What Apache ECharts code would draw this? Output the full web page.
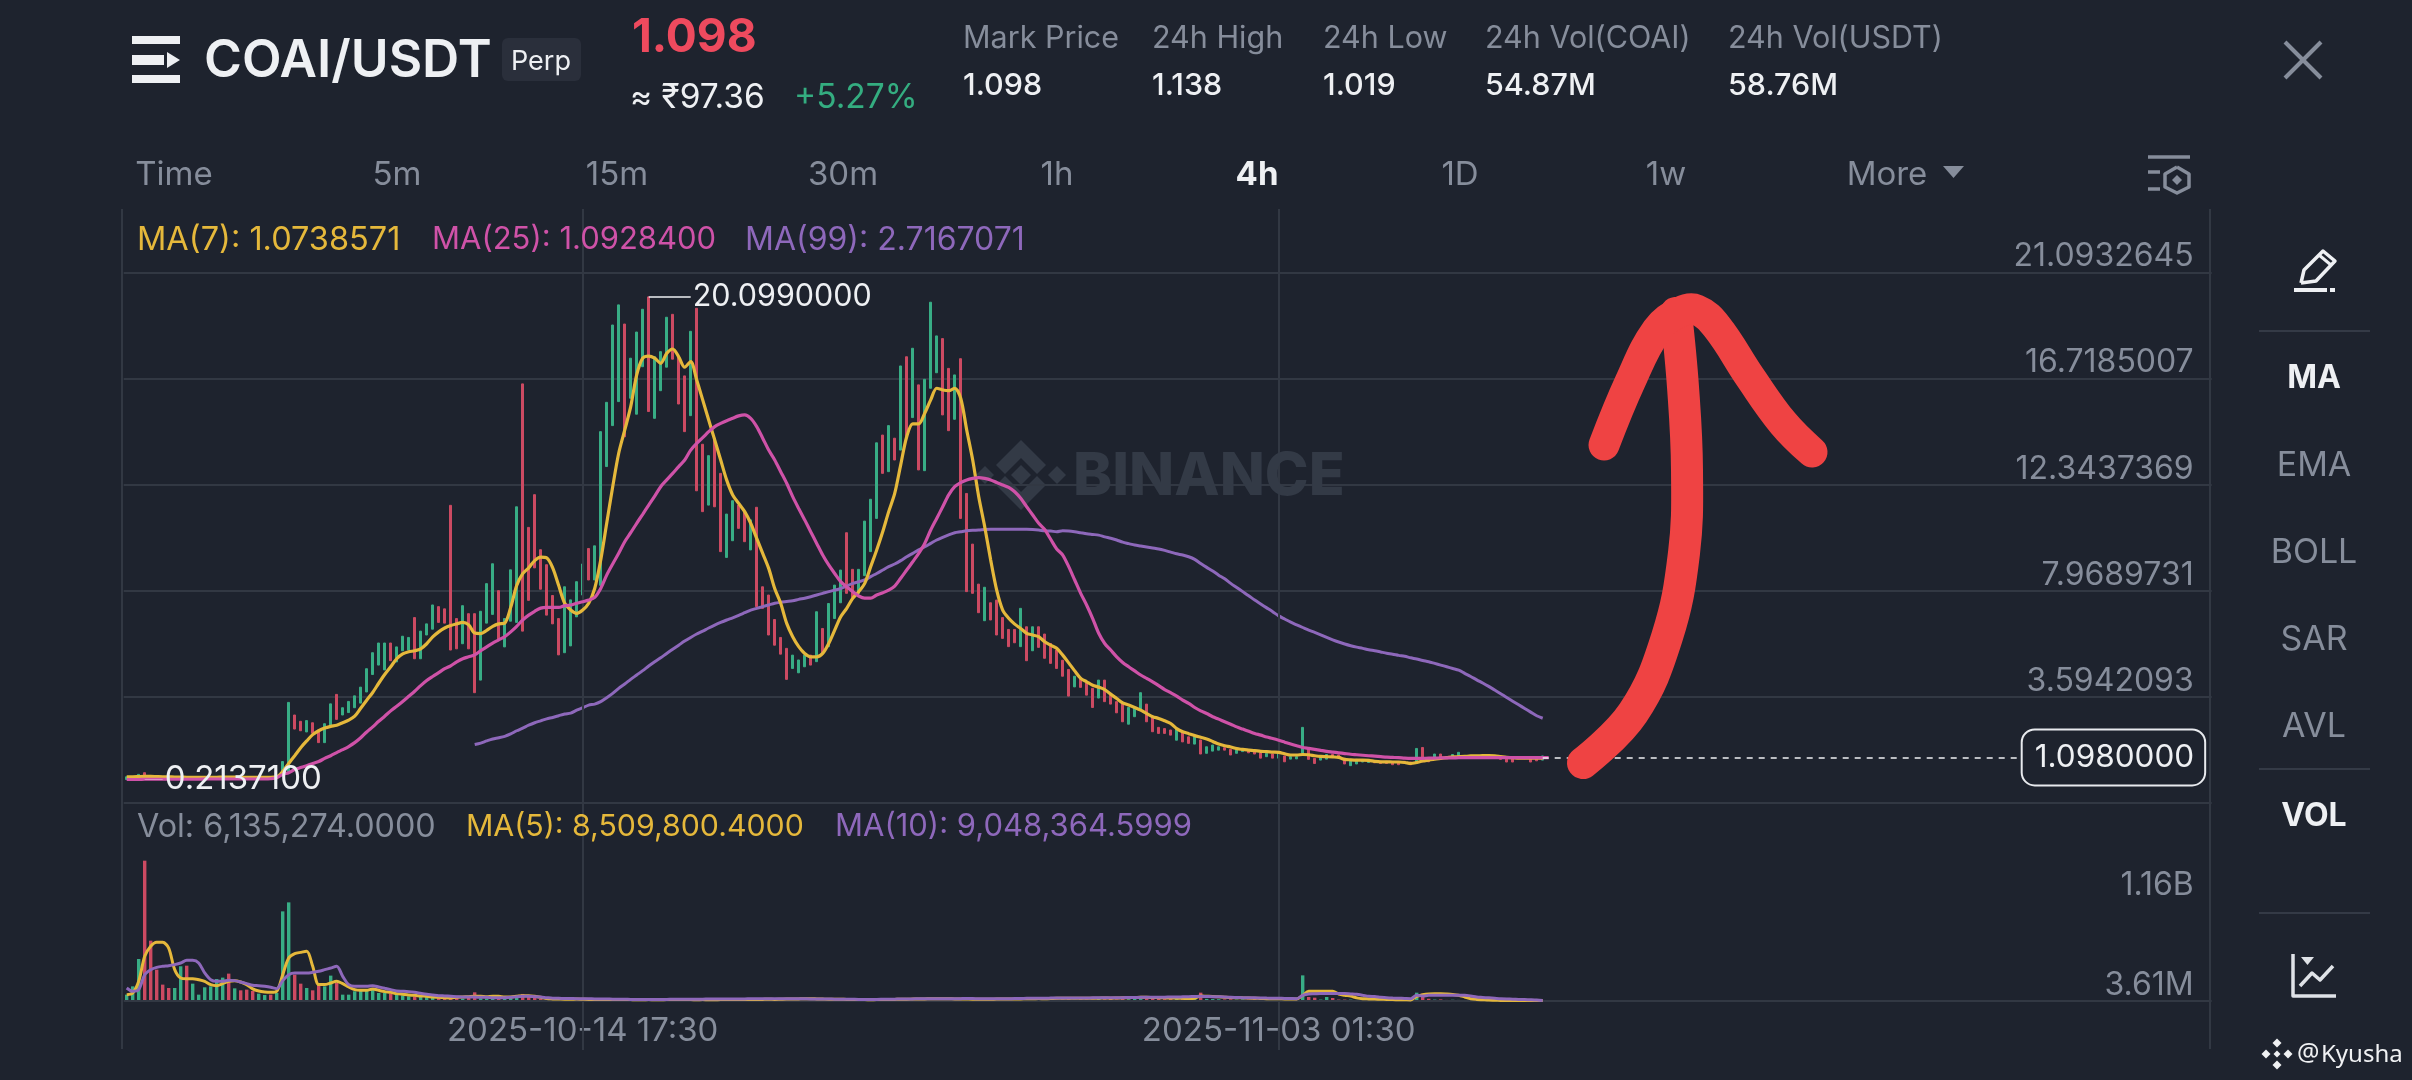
<!DOCTYPE html>
<html><head><meta charset="utf-8">
<style>html,body{margin:0;padding:0;background:#1e232e}#c{width:2412px;height:1080px}</style>
<script src="https://cdn.jsdelivr.net/npm/echarts@6/dist/echarts.min.js"></script></head>
<body><div id="c"></div>
<script>
const priceTicks=[21.0932645,16.7185007,12.3437369,7.9689731,3.5942093];
const priceGridFloor=-0.7805545;
const priceTop=23.726;
const volTicks=[3.61,1160];
const volTickLabels=['3.61M','1.16B'];
const timeLabels=['2025-10-14 17:30','2025-11-03 01:30'];
const highPoint=20.099, lowPoint=0.21371, lastPrice=1.098;

const highs=[.30,.28,.40,.47,.30,.28,.27,.26,.27,.26,.26,.27,.26,.27,.26,.27,.28,.30,.28,.27,.26,.27,.27,.28,.27,.30,
.93,3.37,2.85,2.59,2.62,2.53,2.23,2.49,3.31,3.70,3.15,3.41,3.64,4.0,4.76,5.42,5.82,5.82,5.82,5.66,6.10,6.05,6.87,6.31,6.61,7.39,7.32,7.23,11.50,6.83,7.36,7.03,7.03,7.13,8.27,9.09,7.98,6.83,8.84,11.44,16.51,10.59,11.94,9.67,9.05,7.78,6.83,8.14,7.6,
8.35,9.08,9.72,9.83,14.54,15.75,18.94,19.77,18.98,17.57,18.65,19.59,20.099,17.63,17.84,19.26,19.38,17.63,16.84,18.68,19.63,14.02,13.55,14.27,12.82,11.14,11.69,11.51,11.24,10.9,11.42,8.14,7.8,6.79,6.05,5.6,5.32,5.12,5.32,5.32,7.11,6.42,7.45,8.21,8.83,10.37,8.86,8.86,10.85,11.75,14.08,14.4,14.79,14.27,17.25,17.63,17.98,16.47,16.7,19.88,18.49,18.38,17.15,16.88,17.55,11.99,9.9,8.25,8.12,7.48,7.59,6.87,6.38,6.38,7.25,6.49,6.49,6.49,6.19,5.8,5.53,
5.11,4.73,4.45,4.4,4.18,3.95,4.29,4.29,3.67,3.4,3.33,3.16,3.12,3.77,3.3,2.78,2.34,2.29,2.23,2.29,2.16,1.95,1.95,1.82,1.54,1.61,1.54,1.50,1.43,1.40,1.43,1.38,1.34,1.29,1.27,1.24,1.31,1.16,1.13,1.13,2.34,1.44,1.06,1.10,1.22,1.22,1.20,1.06,1.02,1.02,0.99,0.99,0.96,0.94,0.94,0.91,0.91,0.94,0.91,1.47,1.51,1.02,1.24,1.24,1.13,1.22,1.31,1.16,1.16,1.18,1.20,1.17,1.17,1.13,1.10,1.10,1.13,1.13,1.10,1.10,1.16];
const lows=[.19,.20,.20,.22,.20,.20,.20,.20,.21,.20,.20,.21,.20,.21,.21,.21,.21,.22,.22,.21,.21,.22,.21,.22,.21,.22,
.44,.52,2.27,2.2,2.15,2.10,1.71,1.71,2.40,2.67,2.85,2.95,3.15,3.34,3.80,4.52,4.91,4.71,5.09,5.04,5.50,5.53,5.17,5.17,6.15,6.39,6.67,6.64,5.53,5.58,5.79,5.58,3.77,4.29,6.64,7.0,5.95,5.66,6.72,6.67,6.31,7.58,8.92,8.04,6.97,6.61,5.33,5.42,5.7,
6.90,7.80,8.42,8.42,8.2,13.1,14.79,15.78,14.33,15.92,15.26,17.22,15.37,15.09,16.23,17.2,17.53,15.68,14.54,15.20,12.1,11.24,11.51,11.44,9.59,9.35,10.04,10.55,10.0,9.66,7.32,7.25,6.15,5.73,5.36,4.32,4.77,4.59,4.84,4.91,5.05,5.39,5.67,6.83,7.48,7.87,7.70,7.87,8.6,9.59,10.96,12.82,12.89,13.37,13.78,14.33,15.12,12.96,12.93,16.33,16.97,15.23,14.58,15.05,10.96,7.94,7.87,7.07,6.74,6.77,6.15,6.01,5.67,5.83,5.67,5.09,5.50,5.64,5.19,4.98,4.77,
4.45,3.63,4.01,3.99,3.67,3.16,3.55,3.4,3.3,2.94,2.57,2.47,2.78,3.05,2.57,2.16,2.09,2.09,2.02,1.81,1.74,1.68,1.65,1.24,1.27,1.36,1.40,1.40,1.20,1.27,1.34,1.29,1.24,1.07,1.13,1.07,1.07,0.92,1.03,1.04,1.27,1.02,0.85,0.99,1.03,1.13,1.10,0.83,0.76,0.83,0.91,0.89,0.88,0.85,0.85,0.80,0.80,0.88,0.80,0.85,0.92,0.92,1.02,1.02,1.05,1.06,1.10,1.07,1.07,1.10,1.10,1.10,1.07,1.02,0.91,0.91,1.05,1.05,0.91,0.96,0.99];
const dirs=[1,1,1,-1,-1,-1,-1,-1,1,1,-1,1,1,1,1,1,1,-1,1,-1,-1,-1,1,1,-1,1,
1,1,-1,-1,1,-1,-1,1,1,-1,
1,1,1,1,1,1,1,1,-1,1,
1,1,-1,1,1,1,-1,-1,-1,-1,
1,-1,-1,1,1,1,-1,1,1,1,
-1,-1,-1,-1,-1,-1,-1,1,1,
1,1,-1,1,1,1,1,1,-1,1,
1,1,-1,1,1,1,-1,-1,-1,1,
-1,-1,1,-1,-1,1,1,-1,-1,1,
-1,-1,-1,-1,-1,-1,1,1,1,-1,
1,-1,1,1,1,-1,-1,1,1,1,
1,-1,1,-1,1,-1,1,-1,1,1,
1,-1,-1,1,-1,-1,-1,-1,1,-1,
-1,-1,-1,-1,1,-1,1,-1,-1,-1,
-1,
-1,-1,1,-1,-1,-1,1,-1,-1,-1,
-1,1,1,1,-1,-1,-1,-1,-1,1,
-1,-1,1,-1,1,1,1,-1,-1,1,
1,-1,-1,-1,1,-1,1,-1,1,1,
1,-1,-1,1,1,-1,-1,-1,1,1,
1,1,-1,-1,-1,-1,-1,-1,-1,1,
-1,-1,1,-1,-1,1,1,1,-1,1,
1,-1,-1,-1,-1,-1,1,1,-1,-1,
1];

const ma7=[.30,.30,.31,.32,.32,.31,.30,.30,.29,.29,.28,.28,.28,.28,.28,.28,.29,.29,.29,.28,.28,.28,.28,.28,.28,.30,
.52,.85,1.17,1.50,1.78,2.04,2.20,2.31,2.38,2.43,2.53,2.64,2.80,3.13,3.46,3.78,4.16,4.52,4.84,5.17,5.37,5.46,5.50,5.58,5.79,6.07,6.28,6.44,6.54,6.61,6.67,6.57,6.23,6.21,6.34,6.51,6.61,6.64,7.29,8.19,8.68,8.92,9.22,9.36,9.33,8.92,8.19,7.46,7.18,
7.04,7.18,7.46,8.07,9.24,10.76,12.27,13.65,14.6,15.57,16.88,17.57,17.66,17.57,17.36,17.77,17.95,17.63,17.2,17.43,16.67,15.85,15.02,14.2,13.37,12.54,11.93,11.58,11.24,10.76,10.14,9.52,8.9,8.07,7.46,6.63,6.08,5.67,5.39,5.25,5.25,5.39,5.8,6.35,6.9,7.25,7.66,7.94,8.28,8.97,9.66,10.41,11.24,11.99,13.17,14.33,14.86,14.86,15.3,15.85,16.33,16.26,16.23,16.33,15.92,14.61,13.37,11.86,10.62,9.24,8.0,7.18,6.84,6.6,6.42,6.22,6.15,6.08,5.87,5.73,5.6,
5.32,5.0,4.67,4.36,4.22,4.08,4.0,3.9,3.71,3.53,3.35,3.26,3.16,3.05,2.91,2.78,2.71,2.61,2.5,2.29,2.16,2.08,2.0,1.93,1.86,1.76,1.65,1.58,1.53,1.46,1.43,1.40,1.38,1.35,1.34,1.32,1.31,1.25,1.2,1.2,1.22,1.21,1.17,1.14,1.13,1.12,1.10,1.02,1.0,.99,.99,.98,.94,.92,.92,.91,.91,.89,.85,.89,.95,.99,1.03,1.06,1.09,1.12,1.13,1.14,1.16,1.16,1.17,1.17,1.16,1.13,1.10,1.09,1.07,1.07,1.07,1.07,1.074];
const ma25=[.19,.19,.19,.20,.20,.20,.20,.20,.20,.20,.20,.20,.20,.21,.21,.21,.21,.21,.21,.21,.21,.21,.21,.21,.22,.26,
.40,.47,.60,.68,.76,.85,.93,1.06,1.17,1.30,1.42,1.55,1.71,1.91,2.15,2.36,2.59,2.80,3.02,3.21,3.41,3.62,3.83,4.06,4.27,4.44,4.6,4.76,4.88,5.04,5.17,5.25,5.33,5.5,5.66,5.82,5.95,6.08,6.28,6.51,6.77,6.97,7.13,7.26,7.29,7.29,7.29,7.36,7.39,
7.46,7.52,7.59,7.7,8.07,8.62,9.08,9.52,10.0,10.37,10.76,11.13,11.51,11.88,12.27,12.55,12.82,13.1,13.37,13.78,14.06,14.29,14.54,14.75,14.88,14.99,15.09,15.19,15.23,15.09,14.75,14.27,13.78,13.37,12.89,12.41,11.86,11.37,10.9,10.41,9.93,9.45,9.04,8.69,8.35,8.14,7.94,7.76,7.67,7.67,7.8,7.89,8.0,8.17,8.49,8.83,9.17,9.52,9.93,10.48,10.96,11.44,11.93,12.27,12.44,12.55,12.61,12.64,12.61,12.55,12.44,12.34,12.24,12.06,11.79,11.44,11.1,10.76,10.5,10.1,9.7,
9.45,8.97,8.42,7.87,7.38,6.83,6.22,5.8,5.53,5.25,5.02,4.84,4.67,4.5,4.36,4.22,4.06,3.9,3.77,3.63,3.46,3.33,3.16,3.02,2.91,2.78,2.68,2.57,2.47,2.36,2.27,2.18,2.09,2.02,1.94,1.88,1.81,1.73,1.65,1.58,1.51,1.47,1.43,1.39,1.35,1.32,1.29,1.26,1.23,1.21,1.19,1.17,1.15,1.13,1.11,1.10,1.09,1.07,1.06,1.06,1.06,1.07,1.07,1.08,1.08,1.08,1.09,1.09,1.09,1.09,1.09,1.09,1.09,1.09,1.09,1.09,1.09,1.09,1.09,1.09,1.09,1.093];
const ma99=Array(58).fill(null).concat([1.63,1.69,1.78,1.86,1.91,1.97,2.07,2.2,2.31,2.43,2.53,2.61,2.69,2.75,2.82,2.89,2.93,3.05,3.15,3.26,3.3,3.40,3.56,3.74,3.95,4.13,4.32,4.50,4.68,4.87,5.05,5.21,5.39,5.56,5.73,5.9,6.05,6.19,6.31,6.44,6.56,6.67,6.77,6.86,6.96,7.07,7.18,7.25,7.32,7.39,7.46,7.5,7.53,7.56,7.62,7.67,7.73,7.8,7.87,7.94,8.0,8.07,8.17,8.28,8.35,8.42,8.56,8.69,8.83,8.97,9.08,9.22,9.38,9.52,9.66,9.79,9.93,10.07,10.18,10.28,10.37,10.41,10.45,10.47,10.48,10.5,10.51,10.51,10.51,10.51,10.51,10.51,10.51,10.5,10.48,10.45,10.44,10.41,
10.45,10.44,10.41,10.37,10.33,10.3,10.27,10.2,10.14,10.07,9.98,9.92,9.86,9.82,9.78,9.74,9.7,9.64,9.57,9.5,9.45,9.38,9.27,9.1,8.94,8.79,8.62,8.47,8.28,8.11,7.94,7.77,7.59,7.43,7.27,7.11,6.94,6.81,6.68,6.57,6.46,6.35,6.26,6.16,6.05,5.95,5.86,5.78,5.71,5.65,5.6,5.54,5.5,5.45,5.4,5.36,5.31,5.27,5.21,5.16,5.1,5.05,4.98,4.91,4.84,4.77,4.7,4.57,4.44,4.3,4.17,4.03,3.88,3.73,3.57,3.42,3.27,3.12,2.97,2.82,2.717]);

const volumes=[77,173,489,1626,701,366,193,154,154,405,412,204,77,162,173,258,274,320,150,127,135,119,89,73,77,96,1040,1144,308,204,154,127,193,173,297,212,77,77,116,135,127,135,96,96,89,77,69,58,58,58,50,46,39,39,35,38,30,38,104,35,30,35,42,35,35,39,85,58,58,27,22,24,
20,26,18,22,24,20,18,24,16,20,
22,26,18,16,20,14,18,22,16,20,
24,18,20,16,22,18,14,24,16,20,
26,18,22,18,20,24,16,22,26,20,
18,24,28,20,16,22,26,18,20,24,
16,18,22,20,14,18,22,16,20,24,
18,22,16,20,24,26,18,22,20,16,
24,20,22,18,26,20,24,18,22,16,
20,18,24,20,22,26,18,24,22,20,
26,24,28,22,50,24,28,26,30,32,
28,26,32,28,30,24,26,
100,28,26,24,22,24,20,22,20,24,22,
22,20,18,22,20,24,
300,50,42,20,50,38,20,20,20,16,18,14,16,12,14,12,14,12,14,
100,88,30,20,22,16,18,16,14,12,14,12,10,12,10,8,10,8,9,8,8,6];
const volMa5=[77,96,231,520,636,682,682,616,366,270,262,262,250,231,193,181,204,231,239,223,193,143,119,108,104,116,308,501,551,566,578,405,193,193,212,231,204,166,135,127,127,143,127,112,104,89,81,73,69,62,58,50,46,42,39,46,50,54,58,58,54,58,58,50,50,58,65,65,58,46,31,28,
26,24,24,26,24,22,22,20,20,22,
20,22,20,18,18,20,18,18,20,20,
22,20,20,18,20,18,18,20,20,20,
22,20,22,20,22,24,22,24,26,26,
28,30,30,28,26,24,24,24,22,22,
20,20,18,20,20,20,22,24,24,26,
28,28,30,30,30,30,28,28,26,24,
24,24,24,26,26,26,28,28,30,30,
32,30,32,36,36,34,34,34,34,36,
36,38,36,38,40,42,44,46,46,44,
42,40,38,36,34,32,36,
60,58,56,52,48,44,42,40,38,35,
33,31,30,29,28,27,27,
69,115,115,115,115,115,85,70,60,40,30,28,26,24,22,20,18,17,16,
58,75,85,88,88,85,80,70,50,30,22,18,14,12,10,9,9,9,9,8.5,8.5,8.5];
const volMa10=[154,116,135,308,366,393,405,412,424,443,474,474,443,328,250,231,231,243,239,223,204,185,181,173,162,146,239,308,328,328,328,335,347,366,385,405,289,193,173,173,173,181,166,150,135,119,116,112,104,92,81,73,65,62,58,54,50,50,50,46,46,42,42,42,46,54,58,58,54,50,42,35,
34,33,32,30,30,29,28,27,26,25,
24,23,22,21,20,20,21,22,22,23,
23,24,24,25,25,26,26,27,27,28,
28,28,29,29,30,30,30,30,31,30,
30,29,28,28,27,26,25,24,24,23,
22,22,22,22,23,24,25,26,27,28,
29,30,30,30,29,29,30,31,32,32,
30,30,29,29,30,30,32,32,34,34,
36,36,37,38,38,38,38,39,39,40,
40,41,41,42,42,44,44,46,46,47,
48,48,50,50,52,54,56,
58,56,54,52,50,46,44,42,41,40,
39,37,36,35,33,32,31,
69,85,87,89,89,89,89,89,85,81,70,58,55,48,42,38,35,33,31,
69,62,69,69,69,69,69,69,69,62,50,45,40,35,30,27,25,22,20,18,15,9];

const base=Date.UTC(2025,9,2,1,30), STEP=4*3600*1000, BANDS=348;
const p2=n=>String(n).padStart(2,'0');
const categories=[];
for(let i=0;i<BANDS;i++){const d=new Date(base+i*STEP);categories.push(`${d.getUTCFullYear()}-${p2(d.getUTCMonth()+1)}-${p2(d.getUTCDate())} ${p2(d.getUTCHours())}:${p2(d.getUTCMinutes())}`);}
const candles=highs.map((h,i)=>{const l=lows[i];return dirs[i]>0?[l,h,l,h]:[h,l,l,h];});

const UP='#38ad85',DOWN='#cc4a62',GRID='#323843',GREY='#868d9b',WHITE='#eef0f3',FF='Inter, Lato, sans-serif';
const Y='#e5b83b',P='#cf52a8',V='#8e68bb';
const G=[];
function T(text,x,y,size,fill,o={}){G.push({type:'text',z:o.z||50,style:{text,x,y,fill,font:`${o.w||400} ${size}px ${o.f||FF}`,align:o.a||'left',verticalAlign:'middle'}});}
function L(pts,stroke,lw,o={}){G.push({type:'polyline',z:o.z||50,shape:{points:pts,smooth:o.smooth||0},style:{stroke,lineWidth:lw,fill:'none',lineCap:o.cap||'butt',lineJoin:'round'}});}
function F(pts,fill,z=50){G.push({type:'polygon',z,shape:{points:pts},style:{fill}});}
function D(x,y,r,fill,z=50){F([[x,y-r],[x+r,y],[x,y+r],[x-r,y]],fill,z);}
function R(x,y,w,h,fill,r=0){G.push({type:'rect',z:50,shape:{x,y,width:w,height:h,r},style:{fill}});}

// frame
L([[122,209],[122,1049]],GRID,2,{z:1});L([[2210,209],[2210,1049]],GRID,2,{z:1});
// header
R(132,36,48,8,WHITE);R(132,75,48,8,WHITE);R(132,55,32,10,WHITE);F([[167,52],[180,60],[167,68]],WHITE);
T('COAI/USDT',204,62,51.5,WHITE,{w:600});
R(502,38,79,43,'#2a2f3b',6);T('Perp',541,62,27,WHITE,{a:'center'});
T('1.098',632,38,46,'#ee4a5e',{w:700});
T('≈ ₹97.36',630,98,33.5,WHITE);T('+5.27%',794,98,33.5,'#34ad80');
[['Mark Price','1.098',963],['24h High','1.138',1152],['24h Low','1.019',1323],['24h Vol(COAI)','54.87M',1485],['24h Vol(USDT)','58.76M',1728]].forEach(a=>{T(a[0],a[2],39,30.5,GREY);T(a[1],a[2],86,30.5,WHITE,{w:500});});
[['Time',174],['5m',397],['15m',617],['30m',843],['1h',1057],['1D',1460],['1w',1666],['More',1887]].forEach(a=>T(a[0],a[1],175,33,GREY,{a:'center'}));
T('4h',1257,175,33,WHITE,{a:'center',w:700});
F([[1943,166],[1964,166],[1953.5,178]],GREY);
L([[2148,157],[2190,157]],GREY,3.5);L([[2148,172],[2160,172]],GREY,3.5);L([[2148,189],[2160,189]],GREY,3.5);
L([[2177,167],[2189,174],[2189,187],[2177,193],[2165,187],[2165,174],[2177,167]],GREY,3.5);D(2177,180,5,GREY);
L([[2285,42],[2321,78]],GREY,4);L([[2321,42],[2285,78]],GREY,4);
// side menu
L([[2301,283],[2304,270],[2323,251],[2335,261],[2316,281],[2301,283]],WHITE,3.5);L([[2319,255],[2331,265]],WHITE,3);
L([[2294,290],[2327,290]],WHITE,4);L([[2330,290],[2335,290]],WHITE,4);
[331,769,913].forEach(y=>L([[2259,y],[2370,y]],'#343a46',2));
T('MA',2314,378,32,WHITE,{a:'center',w:700});T('VOL',2314,816,32,WHITE,{a:'center',w:700});
[['EMA',466],['BOLL',553],['SAR',640],['AVL',727]].forEach(a=>T(a[0],2314,a[1],34,GREY,{a:'center'}));
L([[2293,954],[2293,996],[2336,996]],'#dfe2e7',3.5);L([[2300,986],[2312,973],[2320,980],[2333,966]],'#dfe2e7',3.5);F([[2301,957],[2314,957],[2307.5,965]],'#dfe2e7');
// chart legends
T('MA(7): 1.0738571',137,240,32.5,Y);T('MA(25): 1.0928400',432,240,31,P);T('MA(99): 2.7167071',745,240,32,V);
T('Vol: 6,135,274.0000',137,827,32.3,GREY);T('MA(5): 8,509,800.4000',466,827,30.3,Y);T('MA(10): 9,048,364.5999',835,827,31,V);
// watermark (under the marks)
const WM='#333a46';
F([[1021,440],[1046,465],[1037,474],[1021,458],[1005,474],[996,465]],WM,0);
F([[1021,510],[1046,485],[1037,476],[1021,492],[1005,476],[996,485]],WM,0);
D(1021,475,10,WM,0);D(985,475,9,WM,0);D(1057,475,9,WM,0);
T('BINANCE',1073,477,59,WM,{w:800,z:0});
// corner tag
[[2277,1043],[2277,1065],[2266,1054],[2288,1054]].forEach(p=>D(p[0],p[1],4.5,'#f0f1f3'));D(2277,1054,3.5,'#f0f1f3');
T('@',2297,1054,25,'#f0f1f3',{f:'"Noto Sans"'});T('Kyusha',2321,1055,24,'#f0f1f3',{f:'"Noto Sans"'});
// hand-drawn arrow
const AR='#ef4343';
L([[1583,763],[1633,713],[1667,637],[1684,553],[1687,470],[1683,387],[1676,313]],AR,32,{z:100,cap:'round',smooth:.4});
L([[1604,445],[1630,382],[1657,330],[1680,312],[1697,310],[1717,327],[1750,377],[1783,423],[1812,452]],AR,31,{z:100,cap:'round',smooth:.4});

const seg=(i0,i1,v,ls,lab)=>[{coord:[i0,v],lineStyle:ls,label:lab},{coord:[i1,v]}];
const noSym=['none','none'];
const thin={color:GRID,width:2,type:'solid'};
const vLines=timeLabels.map(t=>({xAxis:t,lineStyle:thin,label:{show:false}}));

const option={
 animation:false,backgroundColor:'#1e232e',textStyle:{fontFamily:FF},graphic:{elements:G},
 grid:[{left:123.7,top:209,width:2088,height:594},{left:123.7,top:803,width:2088,height:247}],
 xAxis:[
  {type:'category',gridIndex:0,data:categories,boundaryGap:true,axisLine:{show:false},axisTick:{show:false},axisLabel:{show:false},splitLine:{show:false}},
  {type:'category',gridIndex:1,data:categories,boundaryGap:true,axisLine:{show:false},axisTick:{show:false},splitLine:{show:false},
   axisLabel:{inside:true,margin:2,color:GREY,fontSize:33,fontFamily:FF,hideOverlap:false,interval:(i,v)=>timeLabels.includes(v),verticalAlign:'bottom'}}
 ],
 yAxis:[
  {type:'value',gridIndex:0,position:'right',min:priceGridFloor,max:priceTop,axisLine:{show:false},
   axisTick:{show:false,customValues:priceTicks.concat([priceGridFloor])},
   splitLine:{show:true,lineStyle:{color:GRID,width:2}},
   axisLabel:{inside:true,margin:18,color:GREY,fontSize:32,fontFamily:FF,verticalAlign:'bottom',customValues:priceTicks,formatter:v=>v.toFixed(7)}},
  {type:'value',gridIndex:1,position:'right',min:-563,max:2293,axisLine:{show:false},axisTick:{show:false},splitLine:{show:false},
   axisLabel:{inside:true,margin:18,color:GREY,fontSize:32,fontFamily:FF,verticalAlign:'bottom',customValues:volTicks,formatter:v=>volTickLabels[volTicks.indexOf(v)]||''}}
 ],
 series:[
  {type:'line',xAxisIndex:0,yAxisIndex:0,data:[],z:1,silent:true,markLine:{silent:true,symbol:noSym,animation:false,data:vLines}},
  {type:'line',xAxisIndex:1,yAxisIndex:1,data:[],z:1,silent:true,markLine:{silent:true,symbol:noSym,animation:false,data:vLines.concat([{yAxis:volTicks[0],lineStyle:thin,label:{show:false}}])}},
  {type:'candlestick',name:'COAI',xAxisIndex:0,yAxisIndex:0,data:candles,barWidth:2.6,z:3,
   itemStyle:{color:UP,color0:DOWN,borderColor:UP,borderColor0:DOWN,borderWidth:1},
   markLine:{silent:true,symbol:noSym,animation:false,z:8,data:[
     seg(87,94,highPoint,{color:WHITE,width:1.5,type:'solid'},{show:true,position:'end',formatter:highPoint.toFixed(7),color:WHITE,fontSize:30.5,fontFamily:FF,distance:2}),
     seg(3,6,lowPoint,{color:'rgba(238,240,243,.4)',width:1,type:'solid'},{show:true,position:'end',formatter:lowPoint.toFixed(7),color:WHITE,fontSize:33,fontFamily:FF,distance:2}),
     seg(236,316,lastPrice,{color:'#f0f1f3',width:1.5,type:[6,6]},{show:true,position:'end',formatter:lastPrice.toFixed(7),color:WHITE,fontSize:31.5,fontFamily:FF,distance:0,backgroundColor:'#1e232e',borderColor:'#e8eaee',borderWidth:2,borderRadius:12,padding:[11,10,11,12],align:'left'})
   ]}},
  {type:'line',name:'MA7',xAxisIndex:0,yAxisIndex:0,data:ma7,smooth:.3,showSymbol:false,z:5,lineStyle:{color:Y,width:3.2}},
  {type:'line',name:'MA25',xAxisIndex:0,yAxisIndex:0,data:ma25,smooth:.3,showSymbol:false,z:6,lineStyle:{color:P,width:3.2}},
  {type:'line',name:'MA99',xAxisIndex:0,yAxisIndex:0,data:ma99,smooth:.3,showSymbol:false,z:4,lineStyle:{color:V,width:3}},
  {type:'bar',name:'VOL',xAxisIndex:1,yAxisIndex:1,data:volumes,barWidth:3.4,z:3,itemStyle:{color:p=>dirs[p.dataIndex]>0?UP:DOWN}},
  {type:'line',name:'VMA5',xAxisIndex:1,yAxisIndex:1,data:volMa5,smooth:.3,showSymbol:false,z:5,lineStyle:{color:Y,width:3}},
  {type:'line',name:'VMA10',xAxisIndex:1,yAxisIndex:1,data:volMa10,smooth:.3,showSymbol:false,z:6,lineStyle:{color:V,width:3}}
 ]
};
const chart=echarts.init(document.getElementById('c'));
chart.setOption(option);
</script></body></html>
